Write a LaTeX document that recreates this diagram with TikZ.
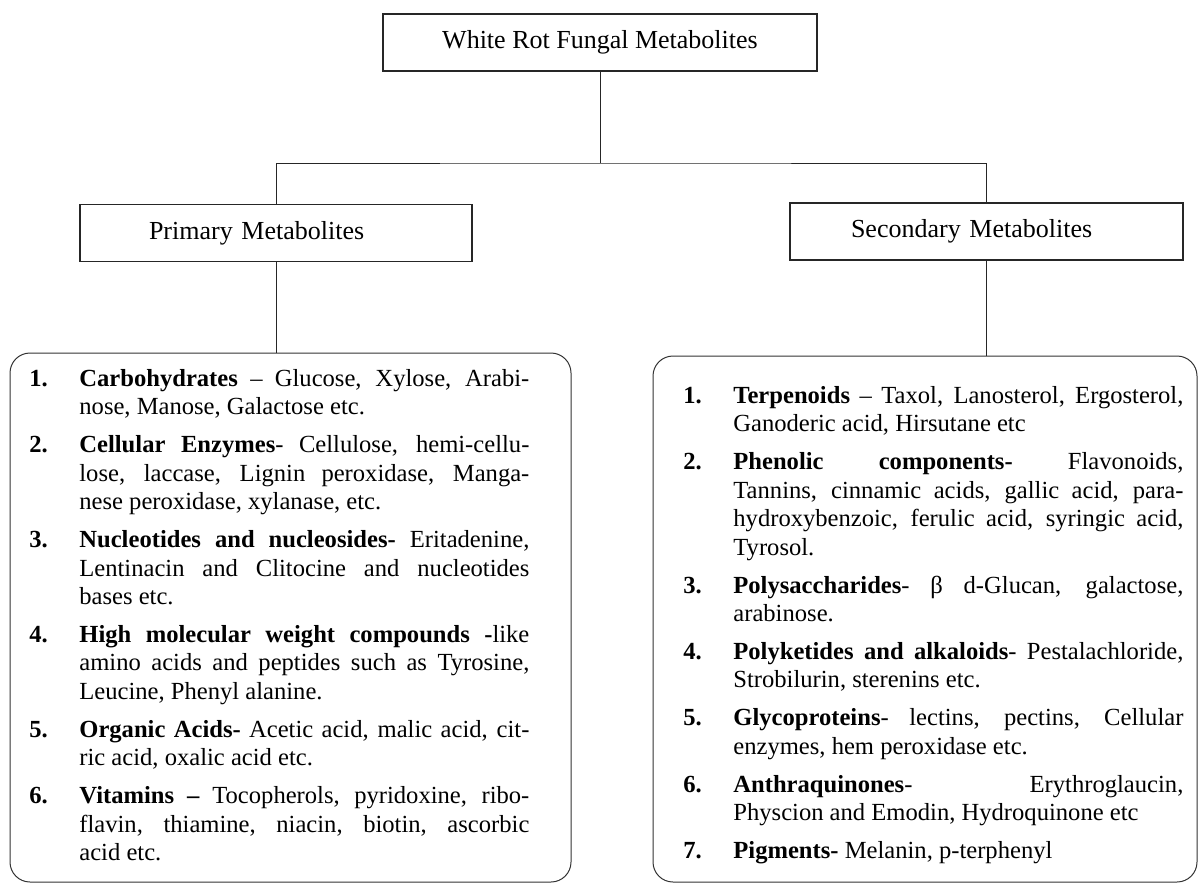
\documentclass[tikz,border=0pt]{standalone}
\usepackage{fontspec}
\setmainfont{Liberation Serif}
\usetikzlibrary{positioning}

% one justified line, and one numbered entry of a list
\newcommand{\jl}[1]{\makebox[225pt][s]{#1}}
\newcommand{\metitem}[2]{\par\hangindent=25pt\hangafter=1\noindent\makebox[25pt][l]{\textbf{#1}}#2\par}

\begin{document}
\begin{tikzpicture}[x=0.5pt,y=-0.5pt]
\tikzstyle{every node}+=[inner sep=0pt]
\tikzstyle{headbox}=[draw=black!85,line width=0.7pt,minimum height=28.5pt,font=\fontsize{13}{15}\selectfont]
\tikzstyle{listbox}=[draw=black!80,line width=0.5pt,rounded corners=10pt]
\tikzstyle{listtext}=[anchor=north west,text width=250pt,align=justify,font=\fontsize{12.3}{14.2}\selectfont]
\tikzstyle{link}=[draw=black!85,line width=0.5pt]
\useasboundingbox (0,0) rectangle (1199,884);

% the tree
\node[headbox,minimum width=217pt] (root) at (600,42.5) {White Rot Fungal Metabolites};
\node[headbox,text width=127pt,inner xsep=34.5pt,align=left] (prim) at (276,233) {Primary Metabolites};
\node[headbox,text width=135.5pt,inner xsep=30.5pt,align=left] (sec) at (986.5,231.5) {Secondary Metabolites};
\coordinate (fork) at (0,163);
\draw[link] (root.south) -- (root.south |- fork);
\draw[link] (prim.north) |- (root.south |- fork) -| (sec.north);

% the two lists
\node[listbox,minimum width=280.5pt,minimum height=264.5pt] (primbox) at (290.5,617.5) {};
\node[listbox,minimum width=272pt,minimum height=263pt] (secbox) at (925,619) {};
\draw[link] (prim.south) -- (prim.south |- primbox.north);
\draw[link] (sec.south) -- (sec.south |- secbox.north);

\node[listtext] (primtext) at (29,348) {\setlength{\parskip}{4.8pt}%
\metitem{1.}{\jl{\textbf{Carbohydrates} – Glucose, Xylose, Arabi-}\\ nose, Manose, Galactose etc.}
\metitem{2.}{\jl{\textbf{Cellular Enzymes}- Cellulose, hemi-cellu-}\\ \jl{lose, laccase, Lignin peroxidase, Manga-}\\ nese peroxidase, xylanase, etc.}
\metitem{3.}{\jl{\textbf{Nucleotides and nucleosides-} Eritadenine,}\\ \jl{Lentinacin and Clitocine and nucleotides}\\ bases etc.}
\metitem{4.}{\jl{\textbf{High molecular weight compounds -}like}\\ \jl{amino acids and peptides such as Tyrosine,}\\ Leucine, Phenyl alanine.}
\metitem{5.}{\jl{\textbf{Organic Acids-} Acetic acid, malic acid, cit-}\\ ric acid, oxalic acid etc.}
\metitem{6.}{\jl{\textbf{Vitamins –} Tocopherols, pyridoxine, ribo-}\\ \jl{flavin, thiamine, niacin, biotin, ascorbic}\\ acid etc.}};

\node[listtext] (sectext) at (683,365) {\setlength{\parskip}{4.8pt}%
\metitem{1.}{\jl{\textbf{Terpenoids} – Taxol, Lanosterol, Ergosterol,}\\ Ganoderic acid, Hirsutane etc}
\metitem{2.}{\jl{\textbf{Phenolic components-} Flavonoids,}\\ \jl{Tannins, cinnamic acids, gallic acid, para-}\\ \jl{hydroxybenzoic, ferulic acid, syringic acid,}\\ Tyrosol.}
\metitem{3.}{\jl{\textbf{Polysaccharides}- β d-Glucan, galactose,}\\ arabinose.}
\metitem{4.}{\jl{\textbf{Polyketides and alkaloids}- Pestalachloride,}\\ Strobilurin, sterenins etc.}
\metitem{5.}{\jl{\textbf{Glycoproteins}- lectins, pectins, Cellular}\\ enzymes, hem peroxidase etc.}
\metitem{6.}{\jl{\textbf{Anthraquinones}- Erythroglaucin,}\\ Physcion and Emodin, Hydroquinone etc}
\metitem{7.}{\textbf{Pigments-} Melanin, p-terphenyl}};
\end{tikzpicture}
\end{document}
